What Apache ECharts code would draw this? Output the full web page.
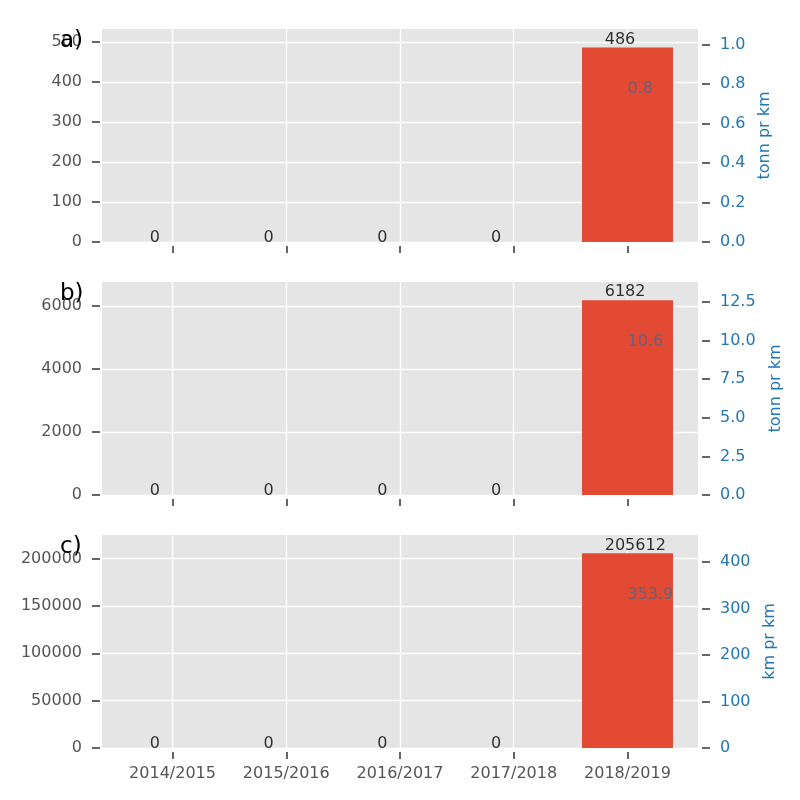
<!DOCTYPE html>
<html>
<head>
<meta charset="utf-8">
<script src="https://cdn.jsdelivr.net/npm/echarts@6/dist/echarts.min.js"></script>
<style>html,body{margin:0;padding:0;background:#fff}#c{width:800px;height:800px}</style>
</head>
<body>
<div id="c"></div>
<script>
const categories = ['2014/2015', '2015/2016', '2016/2017', '2017/2018', '2018/2019'];
const valuesA = [0, 0, 0, 0, 486];
const valuesB = [0, 0, 0, 0, 6182];
const valuesC = [0, 0, 0, 0, 205612];
const ratioA = [null, null, null, null, 0.8];
const ratioB = [null, null, null, null, 10.6];
const ratioC = [null, null, null, null, 353.9];
const leftTicksA = [0, 100, 200, 300, 400, 500];
const leftTicksB = [0, 2000, 4000, 6000];
const leftTicksC = [0, 50000, 100000, 150000, 200000];
const rightTicksA = [0, 0.2, 0.4, 0.6, 0.8, 1.0];
const rightTicksB = [0, 2.5, 5.0, 7.5, 10.0, 12.5];
const rightTicksC = [0, 100, 200, 300, 400];
const leftMax = [532, 6760, 225000];
const rightMax = [1.08, 13.78, 458];
const rightNames = ['tonn pr km', 'tonn pr km', 'km pr km'];
const panelLetters = ['a)', 'b)', 'c)'];

const FONT = 'DejaVu Sans';
const panels = [
  {values: valuesA, ratio: ratioA, lt: leftTicksA, rt: rightTicksA, rdec: 1, gap: 55},
  {values: valuesB, ratio: ratioB, lt: leftTicksB, rt: rightTicksB, rdec: 1, gap: 66},
  {values: valuesC, ratio: ratioC, lt: leftTicksC, rt: rightTicksC, rdec: 0, gap: 60}
];
const tops = [29, 282, 535];
const H = 213;
const tickStyle = {color: '#555555', width: 1.8};

const grid = [], xAxis = [], yAxis = [], series = [], title = [];
panels.forEach((p, i) => {
  grid.push({left: 102, right: 102, top: tops[i], height: H, show: true, backgroundColor: '#E5E5E5', borderWidth: 0});
  const xTicks = categories.map((c, k) => k);
  xAxis.push({
    type: 'value', gridIndex: i, min: -0.62, max: 4.62, offset: 4,
    axisLine: {show: false, onZero: false},
    axisTick: {show: true, length: 7, customValues: xTicks, lineStyle: tickStyle},
    axisLabel: {show: i === 2, customValues: xTicks, margin: 14, color: '#555555', fontSize: 16, fontFamily: FONT,
      formatter: v => categories[Math.round(v)]},
    splitLine: {show: true, lineStyle: {color: '#ffffff', width: 1.3}}
  });
  yAxis.push({
    type: 'value', gridIndex: i, position: 'left', min: 0, max: leftMax[i], offset: 2,
    axisLine: {show: false, onZero: false},
    axisTick: {show: true, length: 8, customValues: p.lt, lineStyle: tickStyle},
    axisLabel: {customValues: p.lt, margin: 18, color: '#555555', fontSize: 16, fontFamily: FONT,
      formatter: v => String(v)},
    splitLine: {show: true, lineStyle: {color: '#ffffff', width: 1.3}}
  });
  yAxis.push({
    type: 'value', gridIndex: i, position: 'right', min: 0, max: rightMax[i], offset: 4,
    name: rightNames[i], nameLocation: 'middle', nameRotate: 90, nameGap: p.gap,
    nameTextStyle: {color: '#1f77b4', fontSize: 16, fontFamily: FONT},
    axisLine: {show: false, onZero: false},
    axisTick: {show: true, length: 8, customValues: p.rt, lineStyle: tickStyle},
    axisLabel: {customValues: p.rt, margin: 18, color: '#1f77b4', fontSize: 16, fontFamily: FONT,
      formatter: v => v.toFixed(p.rdec)},
    splitLine: {show: false}
  });
  series.push({
    type: 'bar', xAxisIndex: i, yAxisIndex: 2 * i, barWidth: 91,
    itemStyle: {color: '#E24A33'},
    data: p.values.map((v, k) => [k, v]), silent: true
  });
  series.push({
    type: 'scatter', xAxisIndex: i, yAxisIndex: 2 * i, symbolSize: 0, silent: true, z: 5,
    data: p.values.map((v, k) => ({
      value: [k - 0.2, v],
      label: {show: true, formatter: String(v), position: v === 0 ? [0, 4] : [0, 0],
        align: 'left', verticalAlign: 'bottom', color: '#000000', fontSize: 16, fontFamily: FONT}
    }))
  });
  series.push({
    type: 'scatter', xAxisIndex: i, yAxisIndex: 2 * i, symbolSize: 0, silent: true, z: 6,
    data: p.ratio.map((r, k) => r === null ? null : ({
      value: [k, p.values[k] * 0.8],
      label: {show: true, formatter: r.toFixed(1), position: [0, 3],
        align: 'left', verticalAlign: 'middle', color: '#4a6890', fontSize: 16, fontFamily: FONT}
    })).filter(d => d !== null)
  });
  title.push({text: panelLetters[i], left: 60, top: tops[i] + 1, padding: 0,
    textStyle: {color: '#000000', fontSize: 23, fontWeight: 'normal', fontFamily: FONT}});
});

const chart = echarts.init(document.getElementById('c'), null, {renderer: 'canvas'});
chart.setOption({animation: false, backgroundColor: '#ffffff', title, grid, xAxis, yAxis, series});
</script>
</body>
</html>
